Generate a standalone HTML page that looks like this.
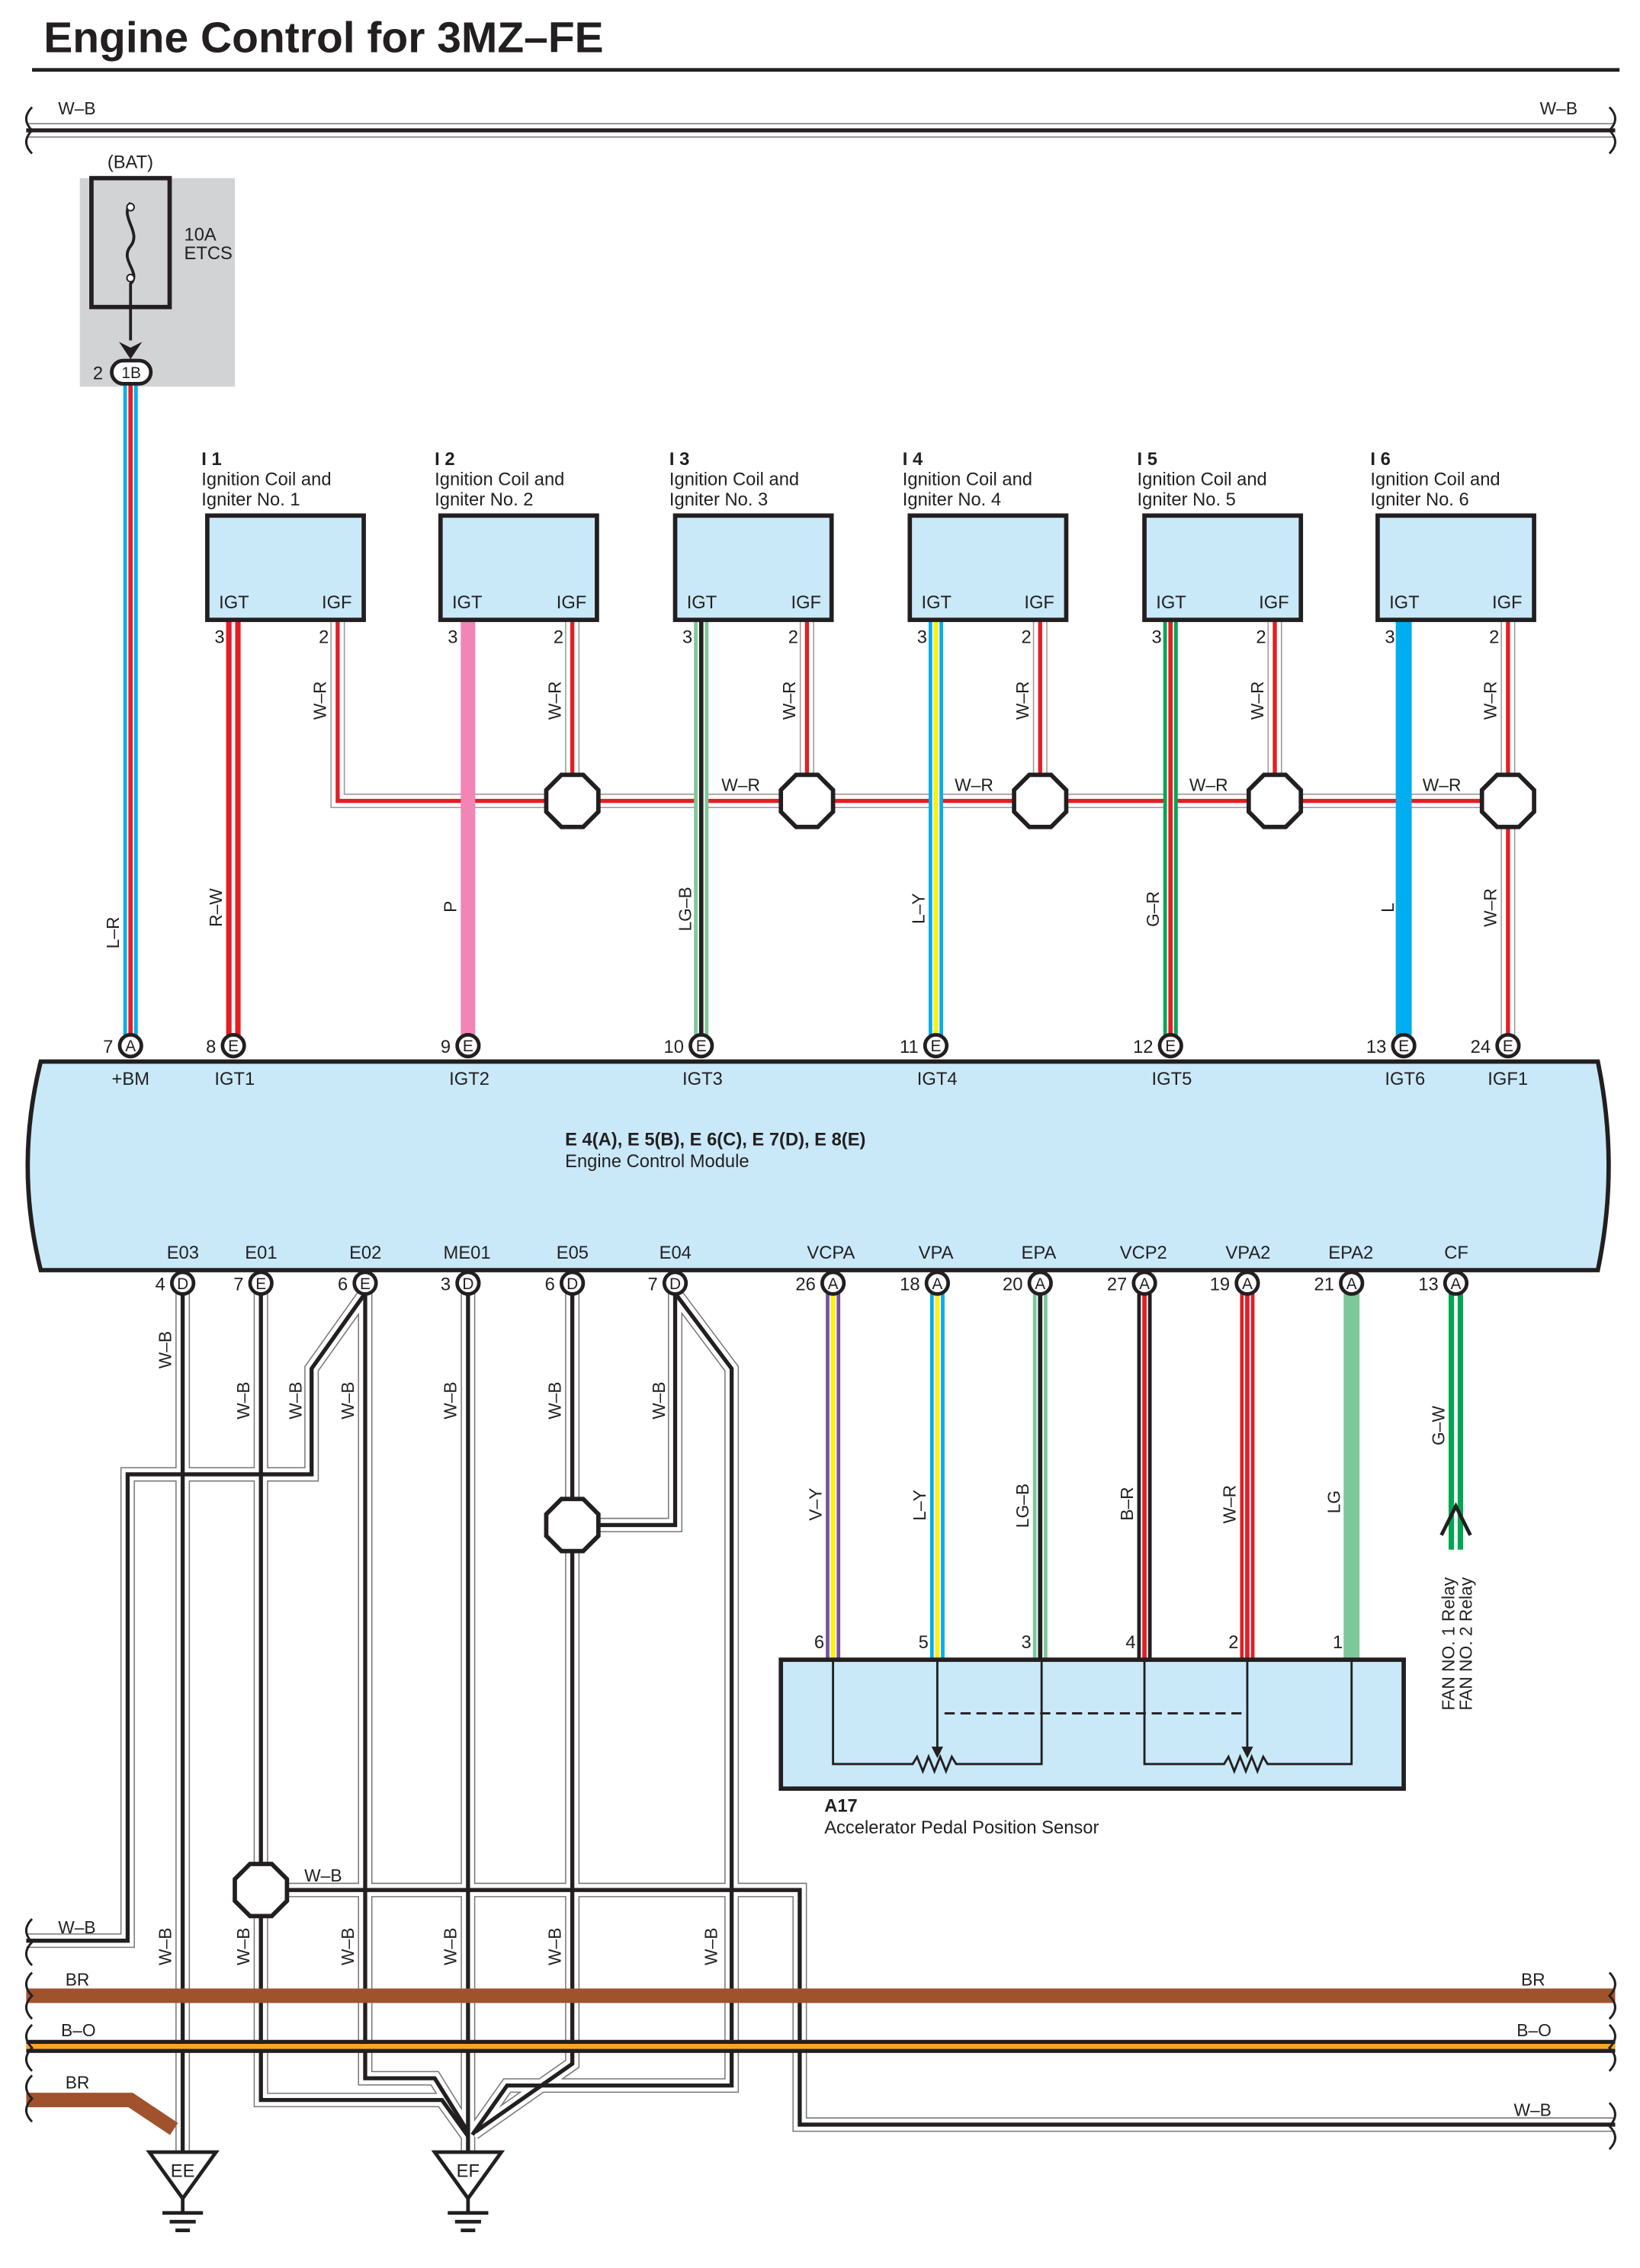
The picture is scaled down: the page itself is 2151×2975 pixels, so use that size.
<!DOCTYPE html>
<html><head><meta charset="utf-8"><style>
html,body{margin:0;padding:0;background:#fff}
svg{display:block}
text{font-family:"Liberation Sans",Arial,sans-serif;fill:#231f20}
.s{font-size:12.5px}
.r{font-size:12px}
</style></head><body>
<svg width="2151" height="2975" viewBox="0 0 1132 1566" xmlns="http://www.w3.org/2000/svg" xmlns:xlink="http://www.w3.org/1999/xlink">
<defs>
<g id="WB" fill="none">
<path d="M18,90 H1115"/>
<path d="M126,893 V1487"/>
<path d="M180,893 V1450 H305 L323,1475"/>
<path d="M180,1305 H552 V1467 H1115"/>
<path d="M252,893 L215,945 V1018 H88 V1340 H18"/>
<path d="M252,893 V1435 H300 L323,1472"/>
<path d="M323,893 V1487"/>
<path d="M395,893 V1425 L328,1472"/>
<path d="M466,893 V1053 H395"/>
<path d="M466,893 L505,945 V1440 H350 L326,1474"/>
</g>
<g id="WR" fill="none">
<path d="M233,428 V553 H1041 V715"/>
<path d="M395,428 V553"/><path d="M557,428 V553"/><path d="M718,428 V553"/><path d="M880,428 V553"/><path d="M1041,428 V553"/>
</g>
</defs>

<text x="30" y="36" font-size="30" font-weight="bold">Engine Control for 3MZ–FE</text>
<rect x="22" y="47" width="1096" height="2.5" fill="#231f20"/>

<!-- fuse -->
<rect x="55" y="123" width="107" height="144" fill="#d1d3d4"/>
<rect x="63" y="123" width="54" height="89" fill="none" stroke="#231f20" stroke-width="3"/>
<path d="M90,140 C82,150 98,160 90,170 C82,180 98,188 90,196 V235" fill="none" stroke="#231f20" stroke-width="2"/>
<circle cx="90" cy="143" r="2.5" fill="#fff" stroke="#231f20"/><circle cx="90" cy="192" r="2.5" fill="#fff" stroke="#231f20"/>
<path d="M82,236 L90,248 L98,236 L90,240 Z" fill="#231f20"/>
<text x="74" y="116" class="s">(BAT)</text>
<text x="127" y="166" class="s">10A</text><text x="127" y="179" class="s">ETCS</text>
<text x="64" y="262" class="s">2</text>

<!-- wires: W-B -->
<use xlink:href="#WB" stroke="#777" stroke-width="10"/>
<use xlink:href="#WB" stroke="#fff" stroke-width="8.4"/>
<use xlink:href="#WB" stroke="#231f20" stroke-width="2.8"/>
<!-- W-R -->
<use xlink:href="#WR" stroke="#999" stroke-width="10"/>
<use xlink:href="#WR" stroke="#fff" stroke-width="8.4"/>
<use xlink:href="#WR" stroke="#e31e24" stroke-width="2.8"/>

<!-- bottom buses -->
<path d="M18,1378 H1115" stroke="#a0522d" stroke-width="10" fill="none"/>
<path d="M18,1413 H1115" stroke="#231f20" stroke-width="9" fill="none"/>
<path d="M18,1413 H1115" stroke="#f7a823" stroke-width="3.5" fill="none"/>
<path d="M18,1450 H90 L120,1470" stroke="#a0522d" stroke-width="10" fill="none"/>
<g fill="none" stroke="#231f20" stroke-width="1.5">
<path d="M22,1325 q-8,8 0,16 q-8,8 0,16"/><path d="M22,1362 q-8,8 0,16 q-8,8 0,16"/><path d="M22,1398 q-8,8 0,16 q-8,8 0,16"/><path d="M22,1433 q-8,8 0,16 q-8,8 0,16"/>
<path d="M1111,1362 q8,8 0,16 q8,8 0,16"/><path d="M1111,1398 q8,8 0,16 q8,8 0,16"/><path d="M1111,1452 q8,8 0,16 q8,8 0,16"/>
<path d="M22,74 q-8,8 0,16 q-8,8 0,16"/><path d="M1111,74 q8,8 0,16 q8,8 0,16"/>
</g>

<!-- colored wires top -->
<g fill="none">
<path d="M90,265 V715" stroke="#00aeef" stroke-width="10"/><path d="M90,265 V715" stroke="#fff" stroke-width="5"/><path d="M90,265 V715" stroke="#e31e24" stroke-width="3"/>
<path d="M161,428 V715" stroke="#e31e24" stroke-width="10"/><path d="M161,428 V715" stroke="#fff" stroke-width="2.5"/>
<path d="M323,428 V715" stroke="#f384b6" stroke-width="10"/>
<path d="M484,428 V715" stroke="#7dc89a" stroke-width="10"/><path d="M484,428 V715" stroke="#fff" stroke-width="5"/><path d="M484,428 V715" stroke="#231f20" stroke-width="3"/>
<path d="M646,428 V715" stroke="#00aeef" stroke-width="10"/><path d="M646,428 V715" stroke="#fff" stroke-width="5"/><path d="M646,428 V715" stroke="#fff200" stroke-width="3"/>
<path d="M808,428 V715" stroke="#00a651" stroke-width="10"/><path d="M808,428 V715" stroke="#fff" stroke-width="5"/><path d="M808,428 V715" stroke="#e31e24" stroke-width="3"/>
<path d="M969,428 V715" stroke="#00aeef" stroke-width="11"/>
<!-- bottom colored -->
<path d="M575,893 V1146" stroke="#7b4fa0" stroke-width="10"/><path d="M575,893 V1146" stroke="#fff" stroke-width="5"/><path d="M575,893 V1146" stroke="#fff200" stroke-width="3"/>
<path d="M647,893 V1146" stroke="#00aeef" stroke-width="10"/><path d="M647,893 V1146" stroke="#fff" stroke-width="5"/><path d="M647,893 V1146" stroke="#fff200" stroke-width="3"/>
<path d="M718,893 V1146" stroke="#7dc89a" stroke-width="10"/><path d="M718,893 V1146" stroke="#fff" stroke-width="5"/><path d="M718,893 V1146" stroke="#231f20" stroke-width="3"/>
<path d="M790,893 V1146" stroke="#231f20" stroke-width="10"/><path d="M790,893 V1146" stroke="#fff" stroke-width="5"/><path d="M790,893 V1146" stroke="#e31e24" stroke-width="3"/>
<path d="M861,893 V1146" stroke="#e31e24" stroke-width="10"/><path d="M861,893 V1146" stroke="#fff" stroke-width="5"/><path d="M861,893 V1146" stroke="#e31e24" stroke-width="3"/>
<path d="M933,893 V1146" stroke="#7dc89a" stroke-width="11"/>
<path d="M1005,893 V1070" stroke="#00a651" stroke-width="10"/><path d="M1005,893 V1070" stroke="#fff" stroke-width="2.5"/>
</g>
<path d="M995,1060 L1005,1040 L1015,1060" fill="none" stroke="#231f20" stroke-width="2.5"/>

<!-- ignition boxes -->
<g stroke="#231f20" stroke-width="3" fill="#c9e9f9">
<rect x="143" y="356" width="108" height="72"/><rect x="304" y="356" width="108" height="72"/><rect x="466" y="356" width="108" height="72"/>
<rect x="628" y="356" width="108" height="72"/><rect x="790" y="356" width="108" height="72"/><rect x="951" y="356" width="108" height="72"/>
</g>
<g class="s">
<text x="139" y="321" font-weight="bold">I 1</text><text x="139" y="335">Ignition Coil and</text><text x="139" y="349">Igniter No. 1</text>
<text x="300" y="321" font-weight="bold">I 2</text><text x="300" y="335">Ignition Coil and</text><text x="300" y="349">Igniter No. 2</text>
<text x="462" y="321" font-weight="bold">I 3</text><text x="462" y="335">Ignition Coil and</text><text x="462" y="349">Igniter No. 3</text>
<text x="623" y="321" font-weight="bold">I 4</text><text x="623" y="335">Ignition Coil and</text><text x="623" y="349">Igniter No. 4</text>
<text x="785" y="321" font-weight="bold">I 5</text><text x="785" y="335">Ignition Coil and</text><text x="785" y="349">Igniter No. 5</text>
<text x="946" y="321" font-weight="bold">I 6</text><text x="946" y="335">Ignition Coil and</text><text x="946" y="349">Igniter No. 6</text>
</g>
<g class="s">
<text x="151" y="420">IGT</text><text x="222" y="420">IGF</text><text x="148" y="444">3</text><text x="220" y="444">2</text>
<text x="312" y="420">IGT</text><text x="384" y="420">IGF</text><text x="309" y="444">3</text><text x="382" y="444">2</text>
<text x="474" y="420">IGT</text><text x="546" y="420">IGF</text><text x="471" y="444">3</text><text x="544" y="444">2</text>
<text x="636" y="420">IGT</text><text x="707" y="420">IGF</text><text x="633" y="444">3</text><text x="705" y="444">2</text>
<text x="798" y="420">IGT</text><text x="869" y="420">IGF</text><text x="795" y="444">3</text><text x="867" y="444">2</text>
<text x="959" y="420">IGT</text><text x="1030" y="420">IGF</text><text x="956" y="444">3</text><text x="1028" y="444">2</text>
</g>

<!-- octagons -->
<g fill="#fff" stroke="#231f20" stroke-width="3">
<polygon points="-7.5,-18 7.5,-18 18,-7.5 18,7.5 7.5,18 -7.5,18 -18,7.5 -18,-7.5" transform="translate(395,553)"/>
<polygon points="-7.5,-18 7.5,-18 18,-7.5 18,7.5 7.5,18 -7.5,18 -18,7.5 -18,-7.5" transform="translate(557,553)"/>
<polygon points="-7.5,-18 7.5,-18 18,-7.5 18,7.5 7.5,18 -7.5,18 -18,7.5 -18,-7.5" transform="translate(718,553)"/>
<polygon points="-7.5,-18 7.5,-18 18,-7.5 18,7.5 7.5,18 -7.5,18 -18,7.5 -18,-7.5" transform="translate(880,553)"/>
<polygon points="-7.5,-18 7.5,-18 18,-7.5 18,7.5 7.5,18 -7.5,18 -18,7.5 -18,-7.5" transform="translate(1041,553)"/>
<polygon points="-7.5,-18 7.5,-18 18,-7.5 18,7.5 7.5,18 -7.5,18 -18,7.5 -18,-7.5" transform="translate(395,1053)"/>
<polygon points="-7.5,-18 7.5,-18 18,-7.5 18,7.5 7.5,18 -7.5,18 -18,7.5 -18,-7.5" transform="translate(180,1305)"/>
</g>

<!-- wire labels top -->
<g class="r">
<text x="40" y="79">W–B</text><text x="1063" y="79">W–B</text>
<text transform="translate(82,655) rotate(-90)">L–R</text>
<text transform="translate(153,640) rotate(-90)">R–W</text>
<text transform="translate(225,497) rotate(-90)">W–R</text>
<text transform="translate(315,630) rotate(-90)">P</text>
<text transform="translate(387,497) rotate(-90)">W–R</text>
<text transform="translate(477,643) rotate(-90)">LG–B</text>
<text transform="translate(549,497) rotate(-90)">W–R</text>
<text transform="translate(638,638) rotate(-90)">L–Y</text>
<text transform="translate(710,497) rotate(-90)">W–R</text>
<text transform="translate(800,640) rotate(-90)">G–R</text>
<text transform="translate(872,497) rotate(-90)">W–R</text>
<text transform="translate(962,630) rotate(-90)">L</text>
<text transform="translate(1033,497) rotate(-90)">W–R</text>
<text transform="translate(1033,640) rotate(-90)">W–R</text>
<text x="498" y="546">W–R</text><text x="659" y="546">W–R</text><text x="821" y="546">W–R</text><text x="982" y="546">W–R</text>
</g>

<!-- ECM -->
<path d="M28,733 H1103 Q1118,805 1103,877 H28 Q10,805 28,733 Z" fill="#c9e9f9" stroke="#231f20" stroke-width="3"/>
<text x="390" y="791" class="s" font-weight="bold">E 4(A), E 5(B), E 6(C), E 7(D), E 8(E)</text>
<text x="390" y="806" class="s">Engine Control Module</text>
<g class="s">
<text x="77" y="749">+BM</text><text x="148" y="749">IGT1</text><text x="310" y="749">IGT2</text><text x="471" y="749">IGT3</text><text x="633" y="749">IGT4</text><text x="795" y="749">IGT5</text><text x="956" y="749">IGT6</text><text x="1027" y="749">IGF1</text>
<text x="115" y="869">E03</text><text x="169" y="869">E01</text><text x="241" y="869">E02</text><text x="306" y="869">ME01</text><text x="384" y="869">E05</text><text x="455" y="869">E04</text><text x="557" y="869">VCPA</text><text x="634" y="869">VPA</text><text x="705" y="869">EPA</text><text x="773" y="869">VCP2</text><text x="846" y="869">VPA2</text><text x="917" y="869">EPA2</text><text x="997" y="869">CF</text>
</g>

<!-- connector pins -->
<g fill="#fff" stroke="#231f20" stroke-width="2.5">
<rect x="77" y="249" width="27" height="16" rx="8"/>
<circle cx="90" cy="722" r="7.5"/><circle cx="161" cy="722" r="7.5"/><circle cx="323" cy="722" r="7.5"/><circle cx="484" cy="722" r="7.5"/><circle cx="646" cy="722" r="7.5"/><circle cx="808" cy="722" r="7.5"/><circle cx="969" cy="722" r="7.5"/><circle cx="1041" cy="722" r="7.5"/>
<circle cx="126" cy="886" r="7.5"/><circle cx="180" cy="886" r="7.5"/><circle cx="252" cy="886" r="7.5"/><circle cx="323" cy="886" r="7.5"/><circle cx="395" cy="886" r="7.5"/><circle cx="466" cy="886" r="7.5"/><circle cx="575" cy="886" r="7.5"/><circle cx="647" cy="886" r="7.5"/><circle cx="718" cy="886" r="7.5"/><circle cx="790" cy="886" r="7.5"/><circle cx="861" cy="886" r="7.5"/><circle cx="933" cy="886" r="7.5"/><circle cx="1005" cy="886" r="7.5"/>
</g>
<g font-size="11" text-anchor="middle">
<text x="90.5" y="261">1B</text>
<text x="90" y="726">A</text><text x="161" y="726">E</text><text x="323" y="726">E</text><text x="484" y="726">E</text><text x="646" y="726">E</text><text x="808" y="726">E</text><text x="969" y="726">E</text><text x="1041" y="726">E</text>
<text x="126" y="890">D</text><text x="180" y="890">E</text><text x="252" y="890">E</text><text x="323" y="890">D</text><text x="395" y="890">D</text><text x="466" y="890">D</text><text x="575" y="890">A</text><text x="647" y="890">A</text><text x="718" y="890">A</text><text x="790" y="890">A</text><text x="861" y="890">A</text><text x="933" y="890">A</text><text x="1005" y="890">A</text>
</g>
<g class="s" text-anchor="end">
<text x="78" y="727">7</text><text x="149" y="727">8</text><text x="311" y="727">9</text><text x="472" y="727">10</text><text x="634" y="727">11</text><text x="796" y="727">12</text><text x="957" y="727">13</text><text x="1029" y="727">24</text>
<text x="114" y="891">4</text><text x="168" y="891">7</text><text x="240" y="891">6</text><text x="311" y="891">3</text><text x="383" y="891">6</text><text x="454" y="891">7</text><text x="563" y="891">26</text><text x="635" y="891">18</text><text x="706" y="891">20</text><text x="778" y="891">27</text><text x="849" y="891">19</text><text x="921" y="891">21</text><text x="993" y="891">13</text>
</g>

<!-- bottom labels -->
<g class="r">
<text transform="translate(118,945) rotate(-90)">W–B</text>
<text transform="translate(172,980) rotate(-90)">W–B</text>
<text transform="translate(208,980) rotate(-90)">W–B</text>
<text transform="translate(244,980) rotate(-90)">W–B</text>
<text transform="translate(315,980) rotate(-90)">W–B</text>
<text transform="translate(387,980) rotate(-90)">W–B</text>
<text transform="translate(459,980) rotate(-90)">W–B</text>
<text transform="translate(567,1050) rotate(-90)">V–Y</text>
<text transform="translate(639,1050) rotate(-90)">L–Y</text>
<text transform="translate(710,1055) rotate(-90)">LG–B</text>
<text transform="translate(782,1050) rotate(-90)">B–R</text>
<text transform="translate(853,1052) rotate(-90)">W–R</text>
<text transform="translate(925,1045) rotate(-90)">LG</text>
<text transform="translate(997,998) rotate(-90)">G–W</text>
<text transform="translate(1004,1181) rotate(-90)">FAN NO. 1 Relay</text>
<text transform="translate(1016,1181) rotate(-90)">FAN NO. 2 Relay</text>
<text transform="translate(118,1357) rotate(-90)">W–B</text>
<text transform="translate(172,1357) rotate(-90)">W–B</text>
<text transform="translate(244,1357) rotate(-90)">W–B</text>
<text transform="translate(315,1357) rotate(-90)">W–B</text>
<text transform="translate(387,1357) rotate(-90)">W–B</text>
<text transform="translate(495,1357) rotate(-90)">W–B</text>
<text x="210" y="1299">W–B</text>
<text x="40" y="1335">W–B</text>
<text x="45" y="1371">BR</text><text x="1050" y="1371">BR</text>
<text x="42" y="1406">B–O</text><text x="1047" y="1406">B–O</text>
<text x="45" y="1442">BR</text><text x="1045" y="1461">W–B</text>
</g>

<!-- sensor -->
<rect x="539" y="1146" width="430" height="89" fill="#c9e9f9" stroke="#231f20" stroke-width="3"/>
<g fill="none" stroke="#231f20" stroke-width="1.5">
<path d="M575,1146 V1218 H630 l3,-5 l4,10 l4,-10 l4,10 l4,-10 l4,10 l4,-10 l3,5 H719 V1146"/>
<path d="M647,1146 V1210"/><path d="M790,1146 V1218 H845 l3,-5 l4,10 l4,-10 l4,10 l4,-10 l4,10 l4,-10 l3,5 H933 V1146"/>
<path d="M861,1146 V1210"/>
<path d="M652,1183 H858" stroke-dasharray="7,4"/>
</g>
<path d="M643,1206 L647,1214 L651,1206 Z M857,1206 L861,1214 L865,1206 Z" fill="#231f20"/>
<g class="s"><text x="562" y="1138">6</text><text x="634" y="1138">5</text><text x="705" y="1138">3</text><text x="777" y="1138">4</text><text x="848" y="1138">2</text><text x="920" y="1138">1</text></g>
<text x="569" y="1251" class="s" font-weight="bold">A17</text>
<text x="569" y="1266" class="s">Accelerator Pedal Position Sensor</text>

<!-- grounds -->
<g fill="#fff" stroke="#231f20" stroke-width="2.5">
<path d="M103,1486 H149 L126,1518 Z"/><path d="M300,1486 H346 L323,1518 Z"/>
<path d="M126,1518 V1527 M112,1528 H140 M117,1534 H135 M121,1540 H131" fill="none"/>
<path d="M323,1518 V1527 M309,1528 H337 M314,1534 H332 M318,1540 H328" fill="none"/>
</g>
<text x="126" y="1503" text-anchor="middle" class="s">EE</text>
<text x="323" y="1503" text-anchor="middle" class="s">EF</text>
</svg>
</body></html>
